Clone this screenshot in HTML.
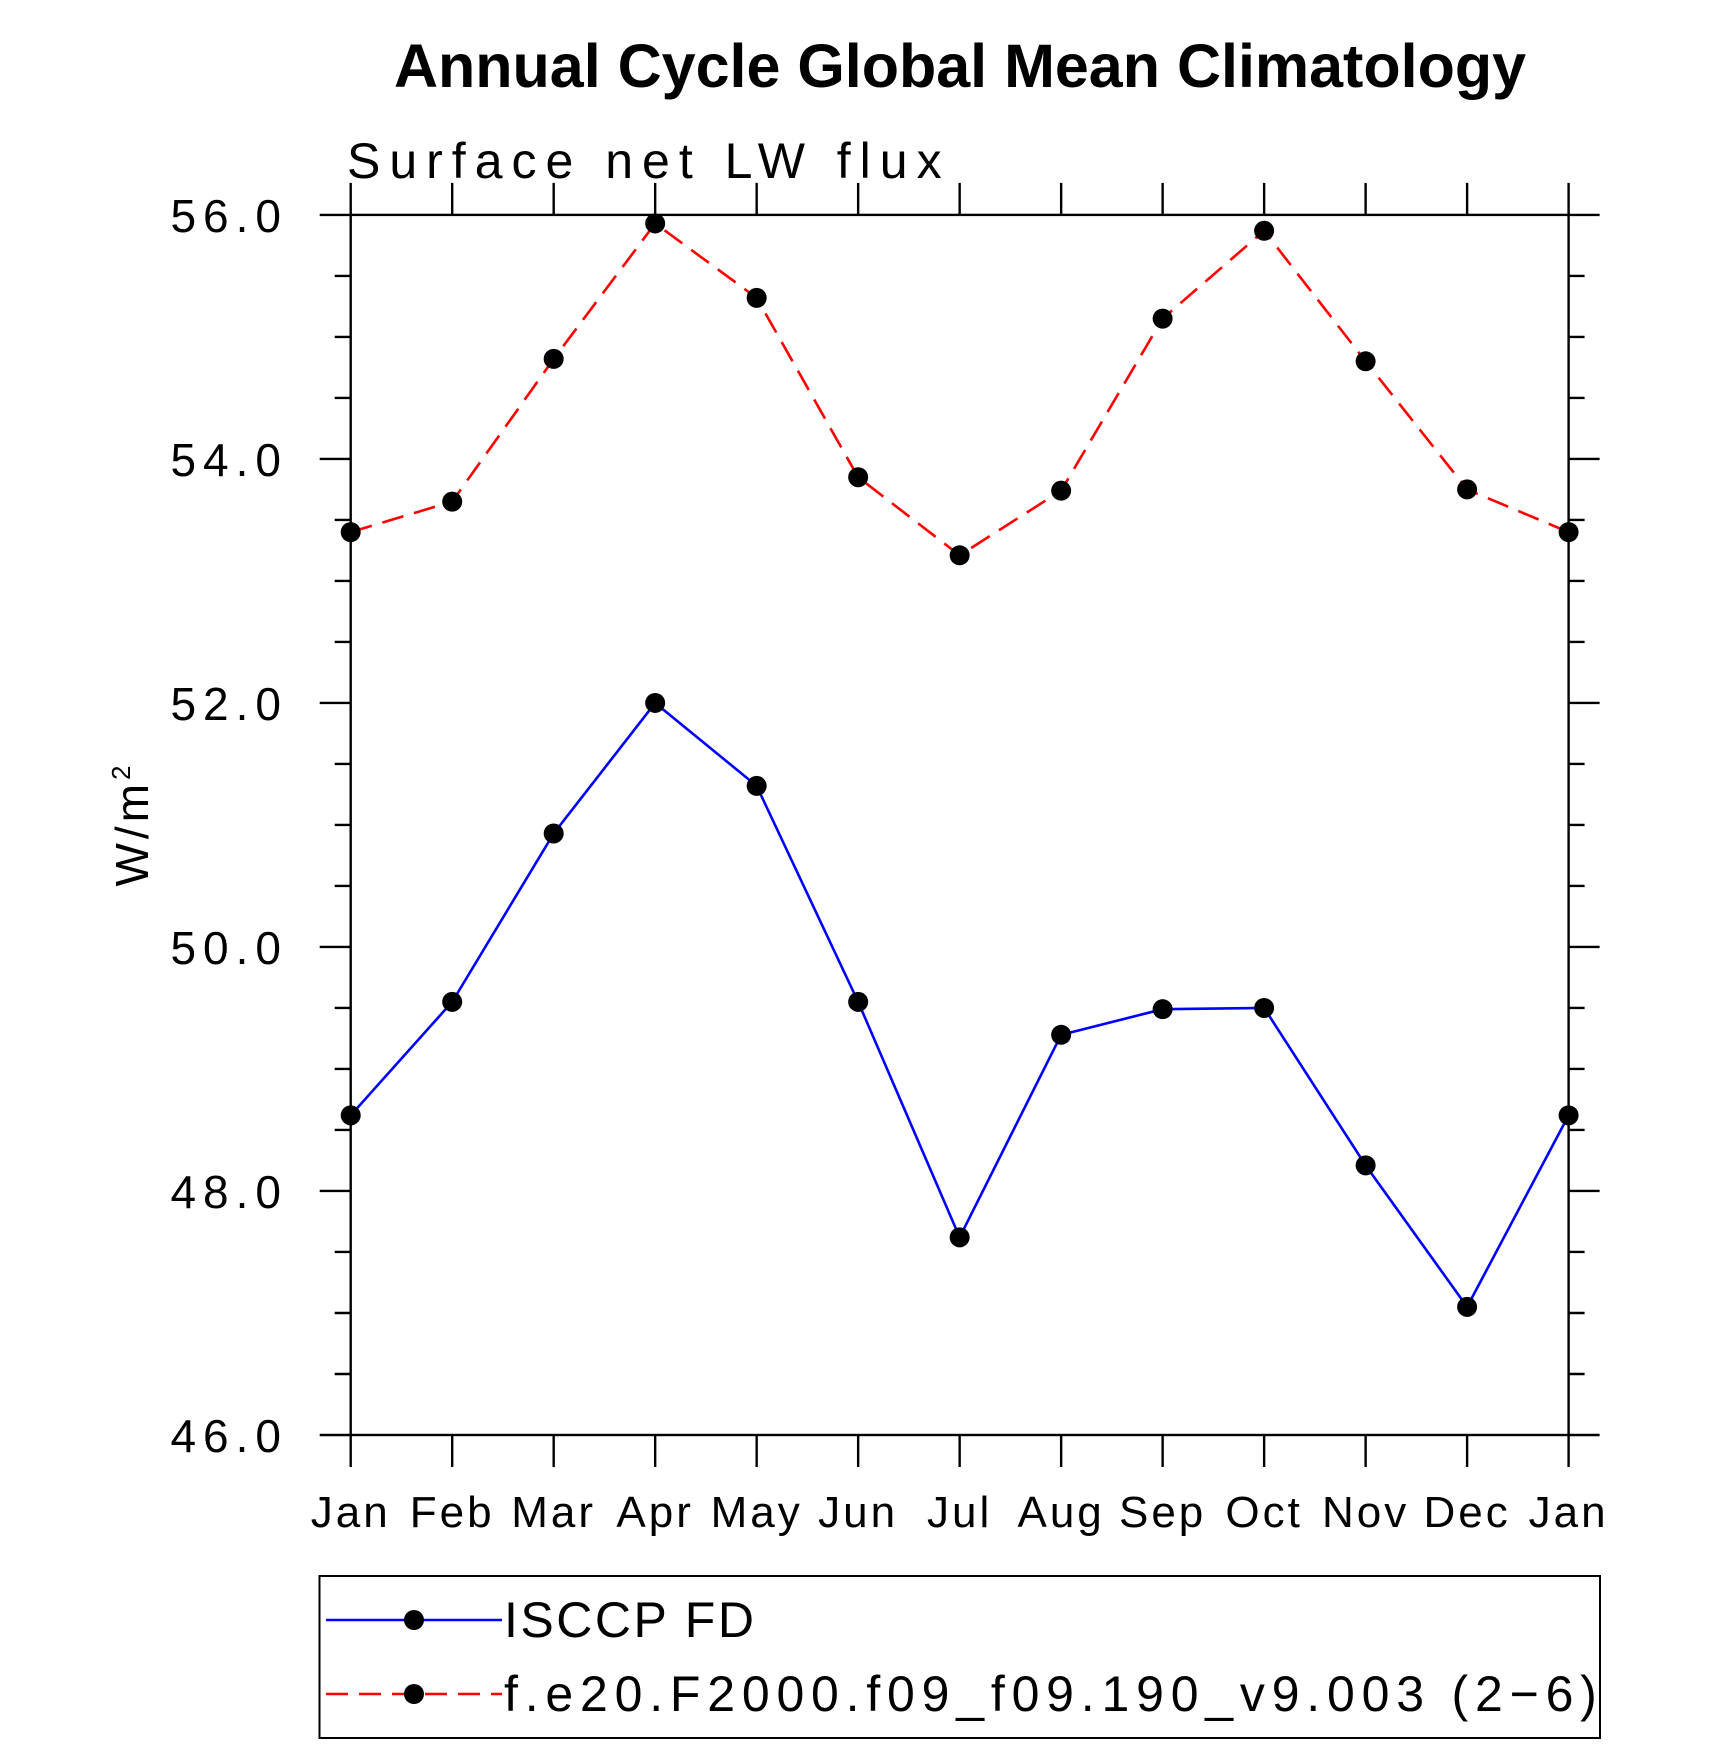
<!DOCTYPE html>
<html><head><meta charset="utf-8"><style>
html,body{margin:0;padding:0;background:#fff;}
svg{display:block;}
text{font-family:"Liberation Sans",sans-serif;}
</style></head><body>
<svg id="chart" width="1710" height="1746" viewBox="0 0 1710 1746">
<text x="960" y="87" text-anchor="middle" font-size="61" font-weight="bold">Annual Cycle Global Mean Climatology</text>
<text x="347" y="178" font-size="50" letter-spacing="9">Surface net LW flux</text>
<text transform="translate(148,824) rotate(-90)" text-anchor="middle" font-size="46" letter-spacing="4">W/m<tspan font-size="26" dy="-18">2</tspan></text>
<g id="axes"></g>
<g id="series"></g>
<rect x="319.5" y="1576" width="1280.5" height="162" fill="none" stroke="#000" stroke-width="2"/>
<g>
<line x1="326" y1="1620" x2="502" y2="1620" stroke="#00f" stroke-width="2.6"/>
<circle cx="414" cy="1620" r="10" fill="#000"/>
<text x="504" y="1637" font-size="50" letter-spacing="2.5">ISCCP FD</text>
</g>
<g>
<line x1="326" y1="1694" x2="502" y2="1694" stroke="#f00" stroke-width="2.6" stroke-dasharray="22,11"/>
<circle cx="414" cy="1694" r="10" fill="#000"/>
<text x="504" y="1711" font-size="50" letter-spacing="6.8">f.e20.F2000.f09_f09.190_v9.003 (2−6)</text>
</g>
</svg>
<script>
const months = ["Jan","Feb","Mar","Apr","May","Jun","Jul","Aug","Sep","Oct","Nov","Dec","Jan"];
const isccp = [48.62,49.55,50.93,52.0,51.32,49.55,47.62,49.28,49.49,49.50,48.21,47.05,48.62];
const model = [53.40,53.65,54.82,55.93,55.32,53.85,53.21,53.74,55.15,55.87,54.80,53.75,53.40];
const yTicks = [46,48,50,52,54,56];
const yTickLabels = ["46.0","48.0","50.0","52.0","54.0","56.0"];

const NS="http://www.w3.org/2000/svg";
const L=350.7,R=1568.6,T=214.9,B=1435;
const yMin=46,yMax=56;
function xs(i){return L+(R-L)*i/(months.length-1);}
function ys(v){return B-(v-yMin)/(yMax-yMin)*(B-T);}
function mk(tag,attrs,parent){const e=document.createElementNS(NS,tag);for(const k in attrs)e.setAttribute(k,attrs[k]);parent.appendChild(e);return e;}
const ax=document.getElementById('axes');
const frame=mk('rect',{x:L,y:T,width:R-L,height:B-T,fill:'none',stroke:'#000','stroke-width':2.4},ax);


const st={stroke:'#000','stroke-width':2.4};
months.forEach((m,i)=>{
  const x=xs(i);
  mk('line',Object.assign({x1:x,y1:B,x2:x,y2:B+32},st),ax);
  mk('line',Object.assign({x1:x,y1:T,x2:x,y2:T-32},st),ax);
  const t=mk('text',{x:x,y:1527,'text-anchor':'middle','font-size':44,'letter-spacing':3},ax);
  t.textContent=m;
  
  
});
for(let v=yMin;v<=yMax+1e-9;v+=0.5){
  const y=ys(v);const major=Math.abs(v-Math.round(v/2)*2)<1e-9;
  const len=major?31:16;
  mk('line',Object.assign({x1:L-len,y1:y,x2:L,y2:y},st),ax);
  mk('line',Object.assign({x1:R,y1:y,x2:R+len,y2:y},st),ax);
}
yTicks.forEach((v,i)=>{
  const t=mk('text',{x:288,y:ys(v)+17,'text-anchor':'end','font-size':46,'letter-spacing':7},ax);
  t.textContent=yTickLabels[i];
  
  
});
const sg=document.getElementById('series');
function series(vals,color,dash,name){
  const pts=vals.map((v,i)=>xs(i)+','+ys(v)).join(' ');
  const pl=mk('polyline',{points:pts,fill:'none',stroke:color,'stroke-width':2.6},sg);
  if(dash)pl.setAttribute('stroke-dasharray',dash);
  
  
  vals.forEach((v,i)=>{
    const c=mk('circle',{cx:xs(i),cy:ys(v),r:10,fill:'#000'},sg);
    
    
  });
}
series(isccp,'#00f',null,'isccp');
series(model,'#f00','22,11','model');
</script>
</body></html>
